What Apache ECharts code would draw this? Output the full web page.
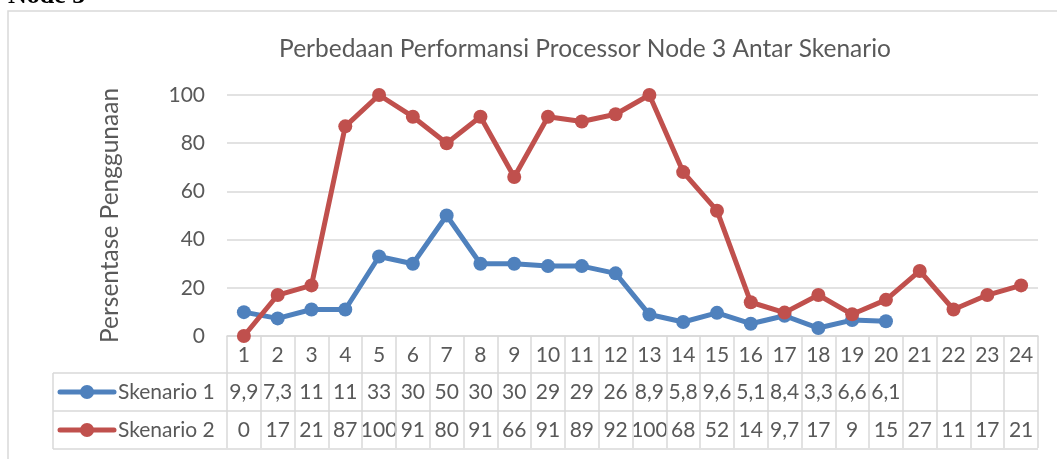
<!DOCTYPE html>
<html>
<head>
<meta charset="utf-8">
<script src="https://cdn.jsdelivr.net/npm/echarts@6/dist/echarts.min.js"></script>
<style>
  html, body { margin: 0; padding: 0; background: #fff; }
  #main { width: 1057px; height: 459px; }
</style>
</head>
<body>
<div id="main"></div>
<script>
// data
var categories = ["1","2","3","4","5","6","7","8","9","10","11","12","13","14","15","16","17","18","19","20","21","22","23","24"];
var skenario1 = [9.9, 7.3, 11, 11, 33, 30, 50, 30, 30, 29, 29, 26, 8.9, 5.8, 9.6, 5.1, 8.4, 3.3, 6.6, 6.1, null, null, null, null];
var skenario2 = [0, 17, 21, 87, 100, 91, 80, 91, 66, 91, 89, 92, 100, 68, 52, 14, 9.7, 17, 9, 15, 27, 11, 17, 21];
var yTicks = [0, 20, 40, 60, 80, 100];
var seriesNames = ["Skenario 1", "Skenario 2"];

var colors = ["#4F81BD", "#C0504D"];
var textColor = "#595959";
var lineGrey = "#D9D9D9";
var font = "Lato, 'Open Sans', sans-serif";

// angka tabel pakai koma desimal
function fmt(v) {
  if (v === null || v === undefined) return "";
  return String(v).replace(".", ",");
}

var chart = echarts.init(document.getElementById("main"));

var option = {
  animation: false,
  color: colors,
  title: {
    text: "Perbedaan Performansi Processor Node 3 Antar Skenario",
    left: 580,
    textAlign: "center",
    top: 32,
    textStyle: { fontFamily: font, fontSize: 24.5, fontWeight: "normal", color: textColor }
  },
  grid: { left: 227, right: 19, top: 95, bottom: 123 },
  xAxis: {
    type: "category",
    data: categories,
    boundaryGap: true,
    axisLine: { lineStyle: { color: lineGrey, width: 1.5 } },
    axisTick: { show: true, length: 112, lineStyle: { color: lineGrey, width: 1.5 } },
    axisLabel: { fontFamily: font, fontSize: 21, color: textColor, margin: 9, interval: 0 }
  },
  yAxis: {
    type: "value",
    min: yTicks[0],
    max: yTicks[yTicks.length - 1],
    interval: 20,
    name: "Persentase Penggunaan",
    nameLocation: "middle",
    nameGap: 104,
    nameMoveOverlap: false,
    nameTextStyle: { fontFamily: font, fontSize: 24.5, color: textColor },
    axisLine: { show: false },
    axisTick: { show: false },
    axisLabel: { fontFamily: font, fontSize: 21, color: textColor, margin: 22 },
    splitLine: { lineStyle: { color: lineGrey, width: 1.5 } }
  },
  series: [
    {
      name: seriesNames[0],
      type: "line",
      data: skenario1,
      symbol: "circle",
      symbolSize: 14,
      lineStyle: { width: 5 },
      z: 3
    },
    {
      name: seriesNames[1],
      type: "line",
      data: skenario2,
      symbol: "circle",
      symbolSize: 14,
      lineStyle: { width: 5 },
      z: 4
    }
  ]
};

chart.setOption(option);

// tabel data di bawah sumbu x
var rowY = [392, 430];
var tableLeft = 53, tableRight = 1038;
var graphics = [
  // bingkai chart
  { type: "rect", shape: { x: 8, y: 11, width: 1080, height: 480 }, style: { fill: null, stroke: lineGrey, lineWidth: 1.5 }, silent: true },
  // judul dokumen yang terpotong
  { type: "text", left: 8, top: -17, style: { text: "Node 3", font: "bold 26px 'Liberation Serif', serif", fill: "#000" } },
  { type: "line", shape: { x1: tableLeft, y1: 373, x2: tableRight, y2: 373 }, style: { stroke: lineGrey, lineWidth: 1.5 } },
  { type: "line", shape: { x1: tableLeft, y1: 411, x2: tableRight, y2: 411 }, style: { stroke: lineGrey, lineWidth: 1.5 } },
  { type: "line", shape: { x1: tableLeft, y1: 449, x2: tableRight, y2: 449 }, style: { stroke: lineGrey, lineWidth: 1.5 } },
  { type: "line", shape: { x1: tableLeft, y1: 373, x2: tableLeft, y2: 449 }, style: { stroke: lineGrey, lineWidth: 1.5 } }
];
[skenario1, skenario2].forEach(function (arr, r) {
  // kunci legenda di kolom kiri tabel
  graphics.push({ type: "line", shape: { x1: 60, y1: rowY[r], x2: 114, y2: rowY[r] }, style: { stroke: colors[r], lineWidth: 5, lineCap: "round" } });
  graphics.push({ type: "circle", shape: { cx: 87, cy: rowY[r], r: 7 }, style: { fill: colors[r] } });
  graphics.push({ type: "text", x: 118, y: rowY[r], style: { text: seriesNames[r], font: "21px " + font, fill: textColor, align: "left", verticalAlign: "middle" } });
  arr.forEach(function (v, i) {
    var x = chart.convertToPixel({ xAxisIndex: 0 }, categories[i]);
    graphics.push({
      type: "text",
      x: x,
      y: rowY[r],
      style: {
        text: fmt(v),
        font: "21px " + font,
        fill: textColor,
        align: "center",
        verticalAlign: "middle"
      }
    });
  });
});

chart.setOption({ graphic: graphics });
</script>
</body>
</html>
